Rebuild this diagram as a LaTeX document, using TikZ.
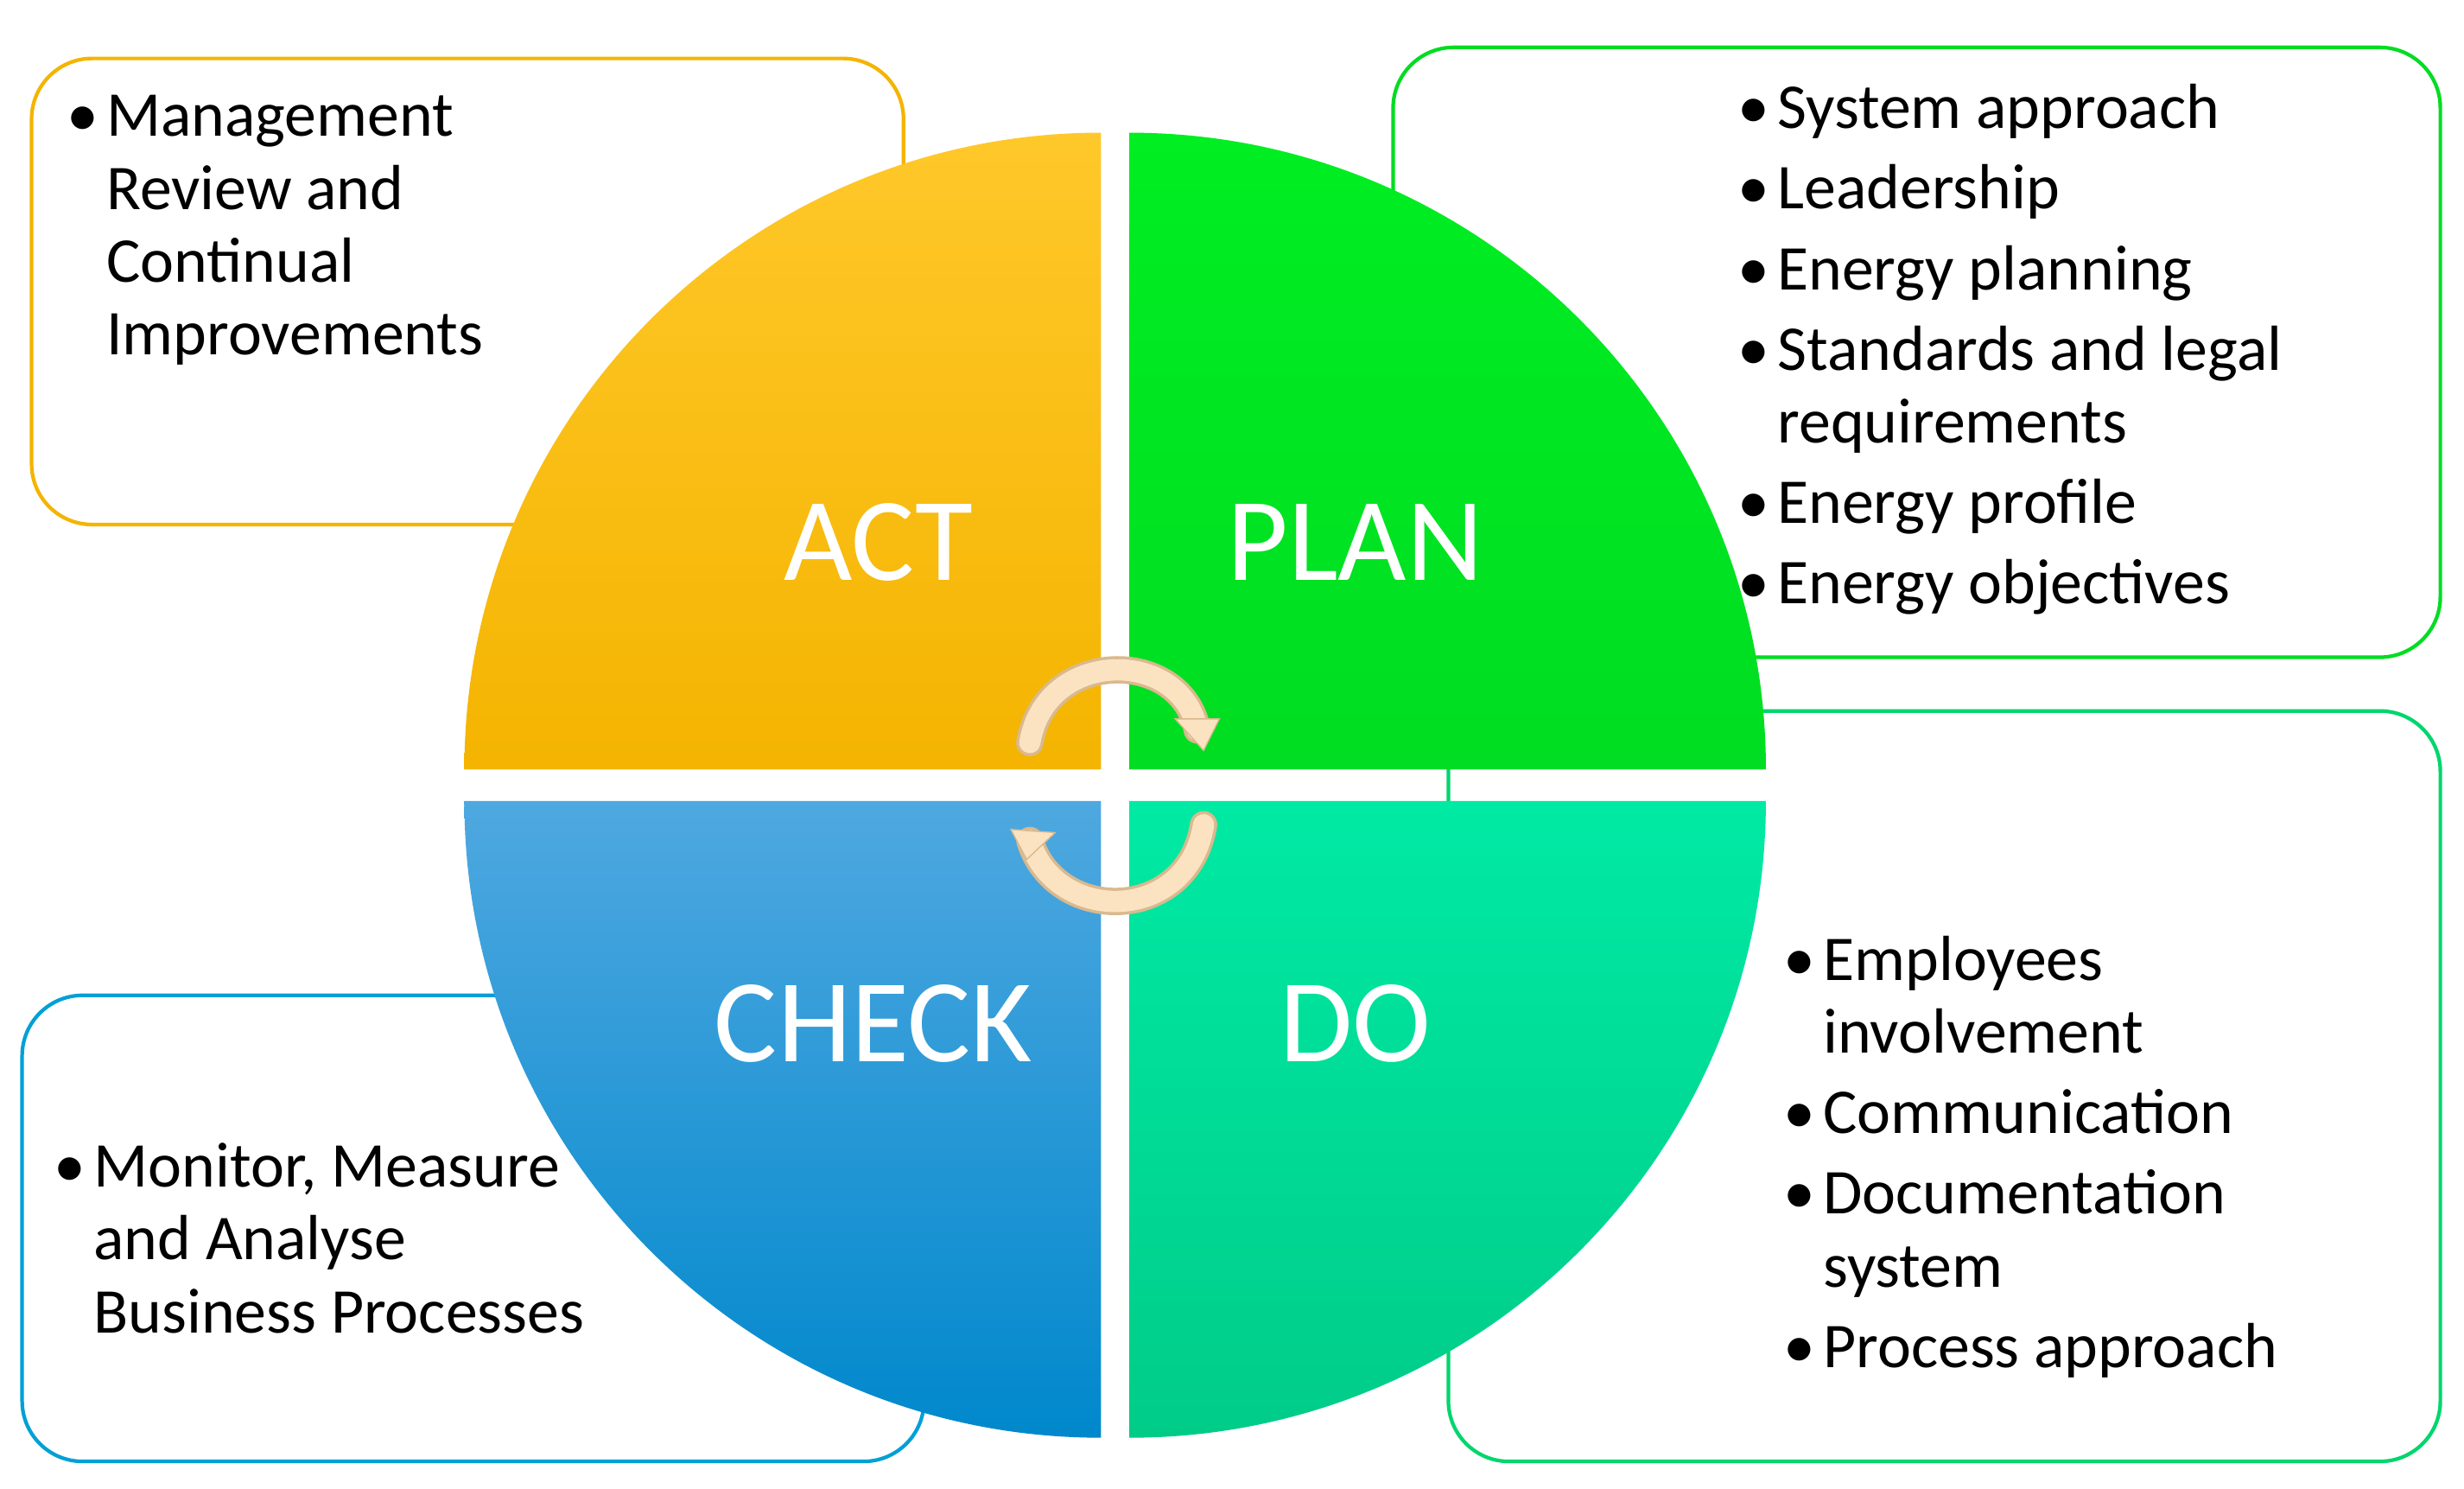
\documentclass[tikz,border=0pt]{standalone}
\usepackage{fontspec}
\setmainfont{Carlito}
\usetikzlibrary{arrows.meta}
\definecolor{actA}{HTML}{FFC82A}\definecolor{actB}{HTML}{F4B400}
\definecolor{planA}{HTML}{00EE22}\definecolor{planB}{HTML}{00DD22}
\definecolor{chkA}{HTML}{4FA8E0}\definecolor{chkB}{HTML}{0088CC}
\definecolor{doA}{HTML}{00EAA4}\definecolor{doB}{HTML}{00CC88}
\definecolor{cream}{HTML}{FBE3C2}\definecolor{creamB}{HTML}{D9B98E}
\newcommand{\bi}[1]{\hangindent=13pt\hangafter=1\noindent\makebox[13pt][l]{\textbullet}#1\par}
\tikzset{
 infobox/.style={draw,line width=1.2pt,rounded corners=0.7cm,fill=white},
 info/.style={anchor=north west,align=left,font=\fontsize{21}{24}\selectfont,inner sep=0pt},
 big/.style={text=white,font=\fontsize{39}{45}\selectfont},
 cyc/.style={line width=7pt,cream,line cap=round}
}
\begin{document}
\begin{tikzpicture}[x=0.01828cm,y=-0.01828cm]
\useasboundingbox (0,0) rectangle (1560,942);
\fill[white] (0,0) rectangle (1560,942);
\draw[infobox,draw=actB] (20,37) rectangle (572,332);
\draw[infobox,draw=planB] (882,30) rectangle (1545,416);
\draw[infobox,draw=doB!80!green] (917,450) rectangle (1545,925);
\draw[infobox,draw=chkB!80!cyan] (14,630) rectangle (585,925);
% quadrants
\shade[top color=actA,bottom color=actB] (697,487) -- (294,487) arc[start angle=180,end angle=90,radius=7.367cm] -- cycle;
\shade[top color=planA,bottom color=planB] (715,487) -- (715,84) arc[start angle=90,end angle=0,radius=7.367cm] -- cycle;
\shade[top color=chkA,bottom color=chkB] (697,507) -- (697,910) arc[start angle=270,end angle=180,radius=7.367cm] -- cycle;
\shade[top color=doA,bottom color=doB] (715,507) -- (1118,507) arc[start angle=0,end angle=-90,radius=7.367cm] -- cycle;
\node[big] (act) at (556,343) {ACT};
\node[big] (plan) at (858,343) {PLAN};
\node[big] (check) at (553,648) {CHECK};
\node[big] (do) at (858,648) {DO};
% cycle arrows
\coordinate (a1) at (652,470);
\coordinate (a2) at (758,462);
\coordinate (b1) at (762,522);
\coordinate (b2) at (652,532);
\draw[cyc,draw=creamB,line width=9pt] (a1) .. controls (662,410) and (748,410) .. (a2);
\draw[cyc] (a1) .. controls (662,410) and (748,410) .. (a2);
\fill[cream,draw=creamB] (744,455) -- (772,455) -- (762,475) -- cycle;
\draw[cyc,draw=creamB,line width=9pt] (b1) .. controls (752,585) and (668,585) .. (b2);
\draw[cyc] (b1) .. controls (752,585) and (668,585) .. (b2);
\fill[cream,draw=creamB] (640,525) -- (668,527) -- (650,544) -- cycle;
% texts
\node[info] (tact) at (42,60) {\begin{minipage}{8cm}\bi{Management\\Review and\\Continual\\Improvements}\end{minipage}};
\node[info] (tplan) at (1100,53) {\begin{minipage}{9cm}\setlength{\parskip}{2.5pt}
\bi{System approach}\bi{Leadership}\bi{Energy planning}\bi{Standards and legal\\requirements}\bi{Energy profile}\bi{Energy objectives}\end{minipage}};
\node[info] (tdo) at (1129,592) {\begin{minipage}{8cm}\setlength{\parskip}{2.5pt}
\bi{Employees\\involvement}\bi{Communication}\bi{Documentation\\system}\bi{Process approach}\end{minipage}};
\node[info] (tchk) at (34,723) {\begin{minipage}{8cm}\bi{Monitor, Measure\\and Analyse\\Business Processes}\end{minipage}};
\end{tikzpicture}
\end{document}
